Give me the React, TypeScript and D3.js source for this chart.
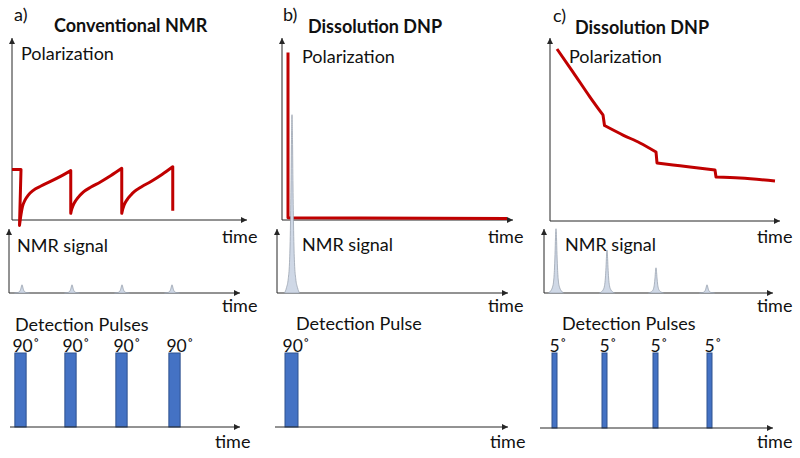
import React from "react";
import * as d3 from "d3";

type P = [number, number];

// ---------- text ----------
const panelLetters = ["a)", "b)", "c)"];
const panelTitles = ["Conventional NMR", "Dissolution DNP", "Dissolution DNP"];
const polarizationLabel = "Polarization";
const signalLabel = "NMR signal";
const timeLabel = "time";
const pulseCaptions = ["Detection Pulses", "Detection Pulse", "Detection Pulses"];

// ---------- polarization (time, polarization %) : continuous stretches ----------
const polA: P[][] = [
  [[-0.36, 28], [0, 28]],
  [[-0.06, -3], [0.0, 3], [0.06, 7.5], [0.16, 11], [0.3, 14], [0.49, 16.5], [0.8, 18.9], [1.16, 21.3], [1.6, 24.4], [1.99, 27.4]],
  [[1.99, 3.7], [2.03, 6], [2.09, 8.3], [2.2, 11], [2.35, 13.6], [2.49, 15.5], [2.8, 18.3], [3.16, 21], [3.6, 24.7], [4.03, 28.7]],
  [[4.03, 3.7], [4.07, 6], [4.13, 8.5], [4.24, 11.2], [4.39, 13.8], [4.53, 15.7], [4.84, 18.6], [5.2, 21.4], [5.64, 25.3], [6.07, 29.6]],
  [[6.07, 29.6], [6.07, 5.2]],
];
const polB: P[][] = [
  [[-0.12, 93], [-0.12, 1.2]],
  [[-0.12, 1.2], [8.64, 0.8]],
];
const polC: P[][] = [
  [[0.08, 95], [0.72, 82.2], [1.4, 68.3], [1.92, 58.3]],
  [[1.98, 52.5], [2.72, 47.2], [3.4, 42.8], [4.04, 37.8]],
  [[4.08, 31.7], [4.72, 30.6], [5.4, 29.4], [6.4, 27.8]],
  [[6.44, 23.9], [7.4, 23.3], [8.8, 21.7]],
];

// ---------- NMR signal peaks ----------
const peakTimesA = [0.04, 2.04, 4.04, 6.04];
const peakHeightsA = [1.3, 1.3, 1.3, 1.3];
const peakTimesB = [0.04];
const peakHeightsB = [28.3];
const peakTimesC = [0.04, 2.08, 4.04, 6.08];
const peakHeightsC = [10.2, 6.8, 4.0, 1.3];
// line shape: (time offset, relative height)
const peakProfile: P[] = [
  [-0.3, 0], [-0.22, 0.03], [-0.15, 0.08], [-0.1, 0.17], [-0.065, 0.35], [-0.04, 0.6], [-0.02, 0.86], [0, 1],
  [0.02, 0.86], [0.04, 0.6], [0.065, 0.35], [0.1, 0.17], [0.15, 0.08], [0.22, 0.03], [0.3, 0],
];

// ---------- detection pulses ----------
const pulseTimesA = [-0.02, 1.98, 4.02, 6.14];
const pulseTimesB = [0.02];
const pulseTimesC = [-0.02, 1.98, 4.02, 6.18];
const pulseAnglesA = ["90˚", "90˚", "90˚", "90˚"];
const pulseAnglesB = ["90˚"];
const pulseAnglesC = ["5˚", "5˚", "5˚", "5˚"];
const pulseDurations = [0.45, 0.52, 0.2];

const pol = [polA, polB, polC];
const peakTimes = [peakTimesA, peakTimesB, peakTimesC];
const peakHeights = [peakHeightsA, peakHeightsB, peakHeightsC];
const pulseTimes = [pulseTimesA, pulseTimesB, pulseTimesC];
const pulseAngles = [pulseAnglesA, pulseAnglesB, pulseAnglesC];

// ---------- layout ----------
const layout = [
  {
    t0: 21, topAx: [12, 220, 38, 247], sigAx: [9, 293, 229, 240], pulAx: [10, 427, 240],
    letter: [14, 21], title: [54, 32], pol: [21, 60], time1: [222, 243], sig: [17, 252],
    time2: [222, 312], cap: [15, 331], time3: [215, 448],
  },
  {
    t0: 291, topAx: [282, 220, 38, 513], sigAx: [277, 293, 229, 508], pulAx: [275, 427, 508],
    letter: [283, 21], title: [308, 33], pol: [302, 63], time1: [488, 243], sig: [302, 251],
    time2: [488, 312], cap: [296, 330], time3: [490, 448],
  },
  {
    t0: 555, topAx: [550, 221, 38, 780], sigAx: [544, 293, 229, 773], pulAx: [540, 428, 773],
    letter: [553, 22], title: [575, 34], pol: [569, 63], time1: [757, 243], sig: [565, 251],
    time2: [757, 312], cap: [562, 330], time3: [757, 448],
  },
];

const FONT = "Lato, 'Open Sans', sans-serif";
const FS = 18;
const RED = "#C00000";
const AX = "#262626";

export default function App() {
  const yPol = d3.scaleLinear().domain([0, 100]).range([220, 40]);
  const ySig = d3.scaleLinear().domain([0, 10]).range([293, 230]);
  const yPulse = d3.scaleLinear().domain([0, 1]).range([427, 353]);

  return (
    <div style={{ position: "absolute", left: 0, top: 0 }}>
      <style>{`body{margin:0}`}</style>
      <svg width={800} height={458} viewBox="0 0 800 458" style={{ display: "block", background: "#fff" }}>
        <defs>
          <marker id="arr" viewBox="0 0 10 10" refX="10" refY="5" markerWidth="7" markerHeight="6"
            markerUnits="userSpaceOnUse" orient="auto">
            <path d="M0,0L10,5L0,10z" fill={AX} />
          </marker>
        </defs>
        {layout.map((L, i) => {
          const x = d3.scaleLinear().domain([0, 1]).range([L.t0, L.t0 + 25]);
          const line = d3.line<P>().x((d) => x(d[0])).y((d) => yPol(d[1])).curve(d3.curveMonotoneX);
          let dPol = "";
          pol[i].forEach((seg, k) => {
            const s = line(seg) || "";
            dPol += k === 0 ? s : s.replace(/^M/, "L");
          });
          const area = d3.area<P>().x((d) => x(d[0])).y0(ySig(0)).y1((d) => ySig(d[1])).curve(d3.curveMonotoneX);
          const [tx, ty, tyTop, txEnd] = L.topAx;
          const [sx, sy, syTop, sxEnd] = L.sigAx;
          const [px, py, pxEnd] = L.pulAx;
          return (
            <g key={i} fontFamily={FONT} fill="#111">
              <text x={L.letter[0]} y={L.letter[1]} fontSize={FS}>{panelLetters[i]}</text>
              <text x={L.title[0]} y={L.title[1]} fontSize={FS} fontWeight="bold">{panelTitles[i]}</text>
              {/* polarization axes */}
              <line x1={tx} y1={ty} x2={tx} y2={tyTop} stroke={AX} strokeWidth={1} markerEnd="url(#arr)" />
              <line x1={tx} y1={ty} x2={txEnd} y2={ty} stroke={AX} strokeWidth={1} markerEnd="url(#arr)" />
              <text x={L.pol[0]} y={L.pol[1]} fontSize={FS}>{polarizationLabel}</text>
              <text x={L.time1[0]} y={L.time1[1]} fontSize={FS}>{timeLabel}</text>
              <path d={dPol} fill="none" stroke={RED} strokeWidth={3} strokeLinejoin="round" />
              {/* NMR signal axes */}
              <line x1={sx} y1={sy} x2={sx} y2={syTop} stroke={AX} strokeWidth={1} markerEnd="url(#arr)" />
              <line x1={sx} y1={sy} x2={sxEnd} y2={sy} stroke={AX} strokeWidth={1} markerEnd="url(#arr)" />
              <text x={L.sig[0]} y={L.sig[1]} fontSize={FS}>{signalLabel}</text>
              <text x={L.time2[0]} y={L.time2[1]} fontSize={FS}>{timeLabel}</text>
              {peakTimes[i].map((t, k) => (
                <path key={k}
                  d={area(peakProfile.map(([dt, r]) => [t + dt, r * peakHeights[i][k]] as P)) || ""}
                  fill="#CFD8E6" stroke="#9AA3B0" strokeWidth={0.8} />
              ))}
              {/* pulses */}
              <text x={L.cap[0]} y={L.cap[1]} fontSize={FS}>{pulseCaptions[i]}</text>
              {pulseTimes[i].map((t, k) => {
                const x0 = x(t - pulseDurations[i] / 2);
                const x1 = x(t + pulseDurations[i] / 2);
                return (
                  <g key={k}>
                    <rect x={x0} y={yPulse(1)} width={x1 - x0} height={py - yPulse(1)}
                      fill="#4472C4" stroke="#2F528F" strokeWidth={1} />
                    <text x={x0 - 2.5} y={352} fontSize={17.5}>{pulseAngles[i][k]}</text>
                  </g>
                );
              })}
              <line x1={px} y1={py} x2={pxEnd} y2={py} stroke={AX} strokeWidth={1} markerEnd="url(#arr)" />
              <text x={L.time3[0]} y={L.time3[1]} fontSize={FS}>{timeLabel}</text>
            </g>
          );
        })}
      </svg>
    </div>
  );
}
